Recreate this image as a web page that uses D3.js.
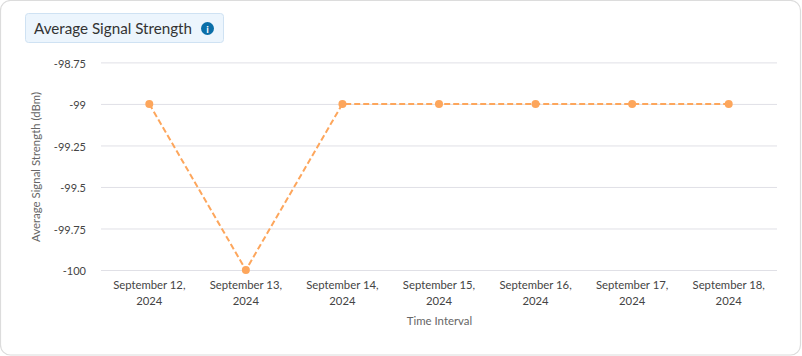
<!DOCTYPE html>
<html>
<head>
<meta charset="utf-8">
<script src="https://cdn.jsdelivr.net/npm/d3@7"></script>
<style>
  html, body { margin: 0; padding: 0; background: #fff; }
  body { width: 802px; height: 356px; overflow: hidden; font-family: Lato, sans-serif; }
  #chart { display: block; }
</style>
</head>
<body>
<svg id="chart" width="802" height="356"></svg>
<script>
const dateLabels = ["September 12, 2024", "September 13, 2024", "September 14, 2024", "September 15, 2024", "September 16, 2024", "September 17, 2024", "September 18, 2024"];
const signalValues = [-99, -100, -99, -99, -99, -99, -99];
const yTicks = [-98.75, -99, -99.25, -99.5, -99.75, -100];

const svg = d3.select("#chart");
const textColor = "#444";
const orange = "#fda65c";

// card
svg.append("rect")
  .attr("x", 0.5).attr("y", 0.5)
  .attr("width", 800).attr("height", 354.5)
  .attr("rx", 10)
  .attr("fill", "#fff")
  .attr("stroke", "#dcdcdc")
  .attr("stroke-width", 1.2);

// title box
svg.append("rect")
  .attr("x", 25.5).attr("y", 13.5)
  .attr("width", 198).attr("height", 29)
  .attr("rx", 3)
  .attr("fill", "#ecf5fd")
  .attr("stroke", "#cfe2f3");

svg.append("text")
  .attr("x", 34).attr("y", 34)
  .style("font-size", "15.2px")
  .style("fill", "#333")
  .text("Average Signal Strength");

svg.append("circle")
  .attr("cx", 207.5).attr("cy", 28.5).attr("r", 6.5)
  .attr("fill", "#0a6ea8");
svg.append("text")
  .attr("x", 207.5).attr("y", 32.5)
  .attr("text-anchor", "middle")
  .style("font-size", "10px")
  .style("font-weight", "700")
  .style("fill", "#fff")
  .text("i");

const x = d3.scaleBand().domain(dateLabels).range([101, 777]);
const y = d3.scaleLinear().domain([-100, -98.75]).range([270, 62.4]);

// grid lines + y labels
const yAxis = svg.append("g")
  .attr("transform", "translate(101,0)")
  .call(d3.axisLeft(y)
    .tickValues(yTicks)
    .tickSize(-676)
    .tickPadding(15)
    .tickFormat(d => d));
yAxis.select(".domain").remove();
yAxis.selectAll("line").attr("stroke", "#e0e0e6");
yAxis.selectAll("text")
  .attr("dy", "0.42em")
  .style("font-family", "Lato, sans-serif")
  .style("font-size", "11px")
  .style("fill", textColor);

// x labels, wrapped on two lines
const xAxis = svg.append("g")
  .attr("transform", "translate(0,270)")
  .call(d3.axisBottom(x).tickSize(0).tickFormat(""));
xAxis.select(".domain").remove();
xAxis.selectAll(".tick text").each(function (d) {
  const comma = d.indexOf(",") + 1;
  const t = d3.select(this)
    .text(null)
    .attr("y", 0)
    .attr("dy", 0)
    .attr("text-anchor", "middle")
    .style("font-family", "Lato, sans-serif")
    .style("font-size", "11.3px")
    .style("fill", textColor);
  t.append("tspan").attr("x", 0).attr("y", 19).text(d.slice(0, comma));
  t.append("tspan").attr("x", 0).attr("y", 35).text(d.slice(comma + 1));
});

// axis titles
svg.append("text")
  .attr("transform", "translate(40,167) rotate(-90)")
  .attr("text-anchor", "middle")
  .style("font-size", "11.4px")
  .style("fill", "#666")
  .text("Average Signal Strength (dBm)");

svg.append("text")
  .attr("x", 439.5).attr("y", 325)
  .attr("text-anchor", "middle")
  .style("font-size", "11.4px")
  .style("fill", "#666")
  .text("Time Interval");

const line = d3.line()
  .x((d, i) => x(dateLabels[i]) + x.bandwidth() / 2)
  .y(d => y(d));

svg.append("path")
  .datum(signalValues)
  .attr("fill", "none")
  .attr("stroke", orange)
  .attr("stroke-width", 2)
  .attr("stroke-dasharray", "6,3")
  .attr("d", line);

svg.selectAll(".dot")
  .data(signalValues)
  .enter()
  .append("circle")
  .attr("class", "dot")
  .attr("cx", (d, i) => x(dateLabels[i]) + x.bandwidth() / 2)
  .attr("cy", d => y(d))
  .attr("r", 4)
  .attr("fill", orange);
</script>
</body>
</html>
